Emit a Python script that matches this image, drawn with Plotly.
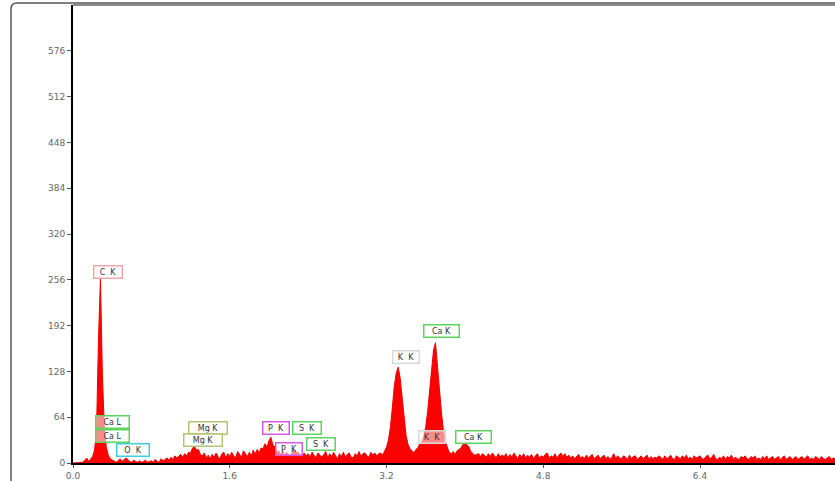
import plotly.graph_objects as go

# EDS spectrum: counts per 0.02 keV channel, starting at 0.00 keV
channel_width = 0.02
counts = [
    0, 0, 0, 0, 0, 1, 4, 7, 2, 5,            # 0.00-0.18
    9, 18, 46, 172, 258, 124, 48, 22, 11, 6,  # 0.20-0.38
    4, 2, 1, 3, 6, 2, 4, 7, 5, 2,            # 0.40-0.58
    1, 4, 2, 1, 3, 1, 2, 4, 1, 2,            # 0.60-0.78
    3, 1, 5, 2, 1, 6, 3, 5, 7, 4,            # 0.80-0.98
    8, 5, 10, 7, 9, 12, 8, 13, 10, 15,       # 1.00-1.18
    14, 21, 23, 18, 19, 12, 10, 14, 7, 11,   # 1.20-1.38
    6, 12, 8, 14, 9, 6, 13, 15, 7, 13,       # 1.40-1.58
    9, 15, 10, 7, 16, 11, 8, 17, 12, 9,      # 1.60-1.78
    15, 10, 18, 12, 19, 14, 21, 20, 27, 22,  # 1.80-1.98
    31, 36, 25, 23, 15, 17, 11, 18, 10, 15,  # 2.00-2.18
    12, 9, 16, 19, 14, 15, 10, 8, 14, 10,    # 2.20-2.38
    13, 8, 15, 10, 7, 14, 11, 8, 12, 16,     # 2.40-2.58
    7, 13, 9, 15, 10, 6, 13, 9, 15, 8,       # 2.60-2.78
    12, 14, 8, 7, 13, 10, 16, 9, 13, 14,     # 2.80-2.98
    10, 8, 15, 11, 14, 10, 13, 14, 11, 17,   # 3.00-3.18
    22, 32, 50, 78, 108, 126, 134, 118, 90, 60,   # 3.20-3.38
    38, 26, 20, 17, 14, 19, 21, 27, 29, 37,       # 3.40-3.58
    50, 72, 98, 128, 158, 168, 140, 104, 72, 46,  # 3.60-3.78
    30, 21, 15, 13, 16, 12, 17, 19, 21, 26,  # 3.80-3.98
    28, 25, 23, 16, 14, 11, 12, 13, 9, 13,   # 4.00-4.18
    11, 8, 13, 9, 14, 10, 7, 13, 9, 11,      # 4.20-4.38
    9, 13, 7, 12, 8, 14, 10, 6, 12, 8,       # 4.40-4.58
    13, 7, 11, 8, 12, 6, 10, 13, 7, 10,      # 4.60-4.78
    8, 12, 14, 7, 10, 8, 13, 7, 11, 14,      # 4.80-4.98
    9, 13, 8, 11, 7, 10, 6, 9, 12, 7,        # 5.00-5.18
    9, 6, 11, 7, 9, 12, 6, 8, 11, 6,         # 5.20-5.38
    8, 11, 6, 9, 5, 8, 13, 6, 10, 7,         # 5.40-5.58
    6, 10, 8, 5, 11, 6, 9, 10, 5, 8,         # 5.60-5.78
    10, 6, 8, 11, 5, 9, 6, 8, 7, 10,         # 5.80-5.98
    8, 5, 10, 6, 8, 11, 6, 5, 10, 8,         # 6.00-6.18
    6, 10, 7, 11, 6, 8, 5, 10, 7, 8,         # 6.20-6.38
    10, 6, 5, 9, 11, 6, 8, 12, 6, 5,         # 6.40-6.58
    8, 6, 10, 5, 9, 7, 11, 5, 8, 6,          # 6.60-6.78
    5, 9, 7, 10, 6, 5, 9, 7, 10, 5,          # 6.80-6.98
    7, 5, 9, 6, 10, 5, 7, 9, 5, 7,           # 7.00-7.18
    9, 5, 7, 10, 5, 7, 9, 5, 7, 9,           # 7.20-7.38
    5, 7, 9, 5, 7, 10, 5, 7, 5, 9,           # 7.40-7.58
    7, 5, 9, 6, 5, 7, 9, 5, 7, 6,            # 7.60-7.78
]
energy = [round(i * channel_width, 2) for i in range(len(counts))]

# Peak identification tags: text, energy (keV), counts, border colour, box width
tag_text = ["C\u00a0\u00a0K", "Ca\u00a0L", "Ca\u00a0L", "O\u00a0\u00a0K",
            "Mg\u00a0K", "Mg\u00a0K", "P\u00a0\u00a0K", "S\u00a0\u00a0K",
            "P\u00a0\u00a0K", "S\u00a0\u00a0K", "K\u00a0\u00a0K", "Ca\u00a0K",
            "K\u00a0\u00a0K", "Ca\u00a0K"]
tag_x = [0.357, 0.408, 0.408, 0.612, 1.378, 1.327, 2.072, 2.388,
         2.205, 2.531, 3.399, 3.766, 3.664, 4.083]
tag_y = [267, 57, 38, 18, 49, 32, 49, 49, 20, 27, 148, 185, 36, 36]
tag_color = ["#f2a8a8", "#5fd35f", "#5fd35f", "#3fd0e0", "#b4c46e", "#b4c46e",
             "#d659e0", "#5fd35f", "#d659e0", "#5fd35f", "#d8d8d8", "#5fd35f",
             "#d8d8d8", "#5fd35f"]
tag_w = [25, 30, 30, 29, 35, 35, 23, 25, 23, 25, 23, 32, 23, 32]

y_ticks = [0, 64, 128, 192, 256, 320, 384, 448, 512, 576]
x_ticks = [0.0, 1.6, 3.2, 4.8, 6.4]

W, H = 835, 481
ML, MR, MT, MB = 73, 0, 5, 18

fig = go.Figure()
fig.add_trace(go.Scatter(
    x=energy, y=counts, mode="lines",
    line=dict(color="#f00000", width=1),
    fill="tozeroy", fillcolor="#ff0000",
    hoverinfo="skip", showlegend=False,
))

for t, x, y, c, w in zip(tag_text, tag_x, tag_y, tag_color, tag_w):
    fig.add_annotation(
        x=x, y=y, xref="x", yref="y", text=t, showarrow=False,
        width=w, height=9, align="center", valign="middle",
        font=dict(family="DejaVu Sans", size=8, color="#333333"),
        bgcolor="rgba(255,255,255,0.55)", bordercolor=c, borderwidth=1.5,
        borderpad=1,
    )

# outer panel frame (left edge + top edge with rounded corner)
pw = W - ML - MR
ph = H - MT - MB
def px(xp):
    return (xp - ML) / pw
def py(yp):
    return (H - MB - yp) / ph

fig.add_shape(type="path", xref="paper", yref="paper",
              path=f"M {px(11)},{py(481)} L {px(11)},{py(9)} "
                   f"Q {px(11)},{py(3)} {px(17)},{py(3)} L {px(835)},{py(3)}",
              line=dict(color="#555555", width=1.5))
# top edge of the plotting area
fig.add_shape(type="line", xref="paper", yref="paper",
              x0=0, x1=1, y0=1, y1=1, line=dict(color="#8a8a8a", width=2))

fig.update_layout(
    width=W, height=H,
    margin=dict(l=ML, r=MR, t=MT, b=MB),
    paper_bgcolor="white", plot_bgcolor="white",
    font=dict(family="DejaVu Sans", size=9, color="#666666"),
    xaxis=dict(range=[0, pw / 97.97], tickvals=x_ticks,
               ticktext=[f"{v:.1f}" for v in x_ticks],
               ticks="outside", ticklen=3, tickcolor="#555555",
               showgrid=False, zeroline=False, showline=True,
               linecolor="black", linewidth=2,
               tickfont=dict(size=9, color="#666666")),
    yaxis=dict(range=[0, ph / 0.7153], tickvals=y_ticks,
               ticks="outside", ticklen=4, tickcolor="#555555",
               showgrid=False, zeroline=False, showline=True,
               linecolor="black", linewidth=2,
               tickfont=dict(size=9, color="#666666")),
)

fig.write_html("out.html")
